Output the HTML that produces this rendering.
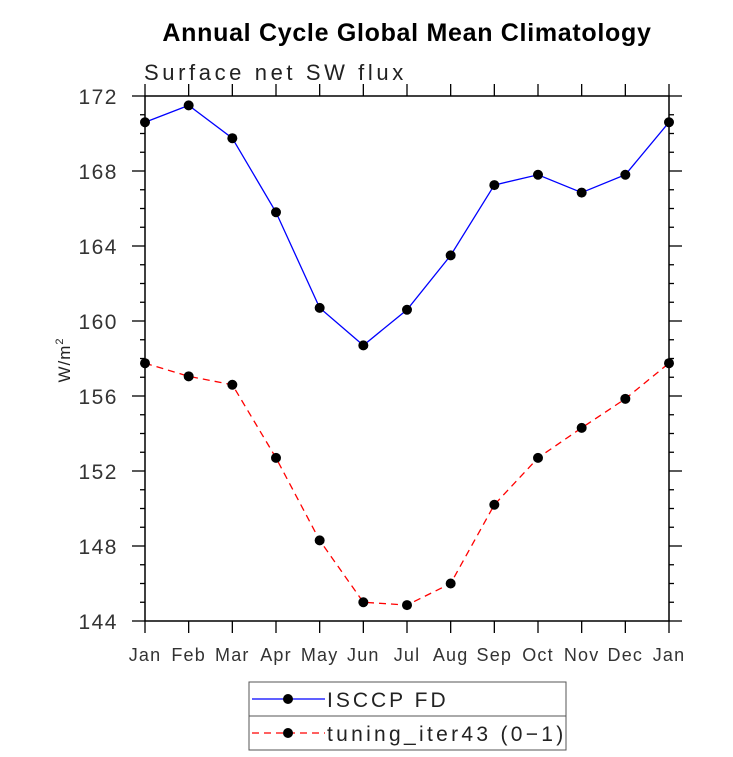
<!DOCTYPE html>
<html><head><meta charset="utf-8"><style>body{margin:0;background:#fff}svg{display:block}</style></head>
<body>
<svg id="c" width="733" height="757" xmlns="http://www.w3.org/2000/svg" font-family="'Liberation Sans', sans-serif">
<text x="407" y="41" text-anchor="middle" font-size="25" font-weight="bold" style="letter-spacing:0.7px">Annual Cycle Global Mean Climatology</text>
<text x="144" y="80" font-size="22" fill="#222" style="letter-spacing:3.6px">Surface net SW flux</text>
<text transform="translate(70,360) rotate(-90)" text-anchor="middle" font-size="17" fill="#222" style="letter-spacing:1px">W/m<tspan font-size="11" dy="-7">2</tspan></text>
<g id="axes"></g>
<g id="series"></g>
<g>
<rect x="249" y="682" width="317" height="68" fill="none" stroke="#555" stroke-width="1"/>
<line x1="249" y1="716" x2="566" y2="716" stroke="#555"/>
<line x1="252" y1="699" x2="325" y2="699" stroke="#00f" stroke-width="1.2"/>
<circle cx="288" cy="699" r="5" fill="#000"/>
<text x="327" y="707" font-size="21" fill="#222" style="letter-spacing:3px">ISCCP FD</text>
<line x1="252" y1="733" x2="325" y2="733" stroke="#f00" stroke-width="1.2" stroke-dasharray="7,5"/>
<circle cx="288" cy="733" r="5" fill="#000"/>
<text x="327" y="741" font-size="21" fill="#222" style="letter-spacing:3.3px">tuning_iter43 (0−1)</text>
</g>
</svg>
<script>
const months=["Jan","Feb","Mar","Apr","May","Jun","Jul","Aug","Sep","Oct","Nov","Dec","Jan"];
const isccp=[170.6,171.5,169.75,165.8,160.7,158.7,160.6,163.5,167.25,167.8,166.85,167.8,170.6];
const tuning=[157.75,157.05,156.6,152.7,148.3,145.0,144.85,146.0,150.2,152.7,154.3,155.85,157.75];
const yTicks=[144,148,152,156,160,164,168,172];
const NS="http://www.w3.org/2000/svg";
const L=145,R=669,T=96,B=621,ymin=144,ymax=172;
const xs=i=>L+(R-L)*i/(months.length-1);
const ys=v=>B-(v-ymin)/(ymax-ymin)*(B-T);
function mk(p,t,a){const e=document.createElementNS(NS,t);for(const k in a)e.setAttribute(k,a[k]);p.appendChild(e);return e;}
const ax=document.getElementById('axes');
const fr=mk(ax,'rect',{x:L,y:T,width:R-L,height:B-T,fill:'none',stroke:'#000','stroke-width':1.5});


for(let v=ymin;v<=ymax;v++){const maj=(v%4===0);const y=ys(v);const len=maj?13:5;
 mk(ax,'line',{x1:L-len,y1:y,x2:L,y2:y,stroke:'#000','stroke-width':1.3});
 mk(ax,'line',{x1:R,y1:y,x2:R+len,y2:y,stroke:'#000','stroke-width':1.3});}
yTicks.forEach(v=>{const t=mk(ax,'text',{x:118,y:ys(v)+8,'text-anchor':'end','font-size':21,fill:'#333','letter-spacing':'1.5'});t.textContent=v;
 
 });
months.forEach((m,i)=>{const x=xs(i);
 mk(ax,'line',{x1:x,y1:B,x2:x,y2:B+12,stroke:'#000','stroke-width':1.3});
 mk(ax,'line',{x1:x,y1:T-12,x2:x,y2:T,stroke:'#000','stroke-width':1.3});
 const t=mk(ax,'text',{x:x,y:B+40,'text-anchor':'middle','font-size':18,fill:'#333','letter-spacing':'1.2'});t.textContent=m;
 
 });
const sg=document.getElementById('series');
function series(vals,col,dash,name){
 const g=mk(sg,'g',{});
 
 
 const pl=mk(g,'polyline',{points:vals.map((v,i)=>xs(i)+','+ys(v)).join(' '),fill:'none',stroke:col,'stroke-width':1.3});
 if(dash)pl.setAttribute('stroke-dasharray','7,5');
 vals.forEach((v,i)=>{const c=mk(g,'circle',{cx:xs(i),cy:ys(v),r:5,fill:'#000'});
  
  });
}
series(isccp,'#00f',false,'series-isccp');
series(tuning,'#f00',true,'series-tuning');
</script>
</body></html>
